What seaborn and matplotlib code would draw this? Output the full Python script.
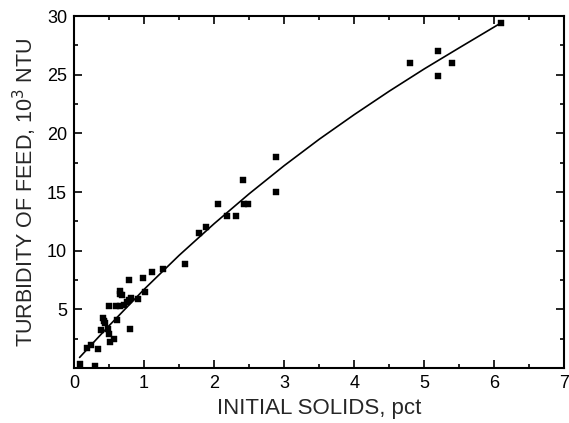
import matplotlib
matplotlib.use("Agg")
import matplotlib.pyplot as plt
from matplotlib.ticker import MultipleLocator
import seaborn as sns
import pandas as pd

# Data
solids_pct = [0.09, 0.30, 0.19, 0.25, 0.34, 0.38, 0.42, 0.43, 0.44, 0.48,
              0.50, 0.52, 0.57, 0.50, 0.60, 0.66, 0.62, 0.65, 0.66, 0.68,
              0.72, 0.75, 0.78, 0.80, 0.78, 0.82, 0.92, 0.98, 1.02, 1.12,
              1.27, 1.59, 1.79, 1.89, 2.06, 2.19, 2.31, 2.41, 2.42, 2.48,
              2.88, 2.89, 4.79, 5.19, 5.19, 5.39, 6.09]
turbidity = [0.3, 0.2, 1.7, 2.0, 1.6, 3.2, 4.3, 4.0, 3.8, 3.3,
             2.9, 2.2, 2.5, 5.3, 5.3, 5.3, 4.1, 6.6, 6.3, 6.2,
             5.4, 5.6, 7.5, 3.3, 5.8, 5.95, 5.9, 7.7, 6.5, 8.2,
             8.45, 8.9, 11.5, 12.0, 14.0, 13.0, 13.0, 16.0, 14.0, 14.0,
             15.0, 18.0, 26.0, 27.0, 24.9, 26.0, 29.4]

curve_x = [0.08, 0.5, 1.0, 1.5, 2.0, 2.5, 3.0, 3.5, 4.0, 4.5, 5.0, 5.5, 6.09]
curve_y = [0.9, 3.6, 6.7, 9.6, 12.3, 14.85, 17.25, 19.5, 21.6, 23.6, 25.5, 27.3, 29.4]

x_ticks = [0, 1, 2, 3, 4, 5, 6, 7]
y_ticks = [5, 10, 15, 20, 25, 30]

pts = pd.DataFrame({"x": solids_pct, "y": turbidity})
crv = pd.DataFrame({"x": curve_x, "y": curve_y})

sns.set_theme(style="ticks")
plt.rcParams["font.family"] = ["Liberation Sans", "DejaVu Sans"]

fig = plt.figure(figsize=(5.69, 4.23), dpi=100)
ax = fig.add_axes([0.130, 0.130, 0.862, 0.832])

sns.lineplot(data=crv, x="x", y="y", ax=ax, color="black", linewidth=1.2,
             estimator=None, sort=False)
sns.scatterplot(data=pts, x="x", y="y", ax=ax, marker="s", color="black",
                s=18, edgecolor="black", linewidth=0.3, zorder=3)

ax.set_xlim(0, 7)
ax.set_ylim(0, 30)
ax.set_xticks(x_ticks)
ax.set_yticks(y_ticks)
ax.xaxis.set_minor_locator(MultipleLocator(0.5))
ax.yaxis.set_minor_locator(MultipleLocator(2.5))
ax.tick_params(which="both", direction="in", top=True, right=True,
               labelsize=13, colors="black", width=1.2)
ax.tick_params(which="major", length=6, pad=5)
ax.tick_params(which="minor", length=3)
for sp in ax.spines.values():
    sp.set_visible(True)
    sp.set_linewidth(1.5)
    sp.set_color("black")

ax.set_xlabel("INITIAL SOLIDS, pct", fontsize=16, labelpad=4)
ax.set_ylabel("TURBIDITY OF FEED, 10$^3$ NTU", fontsize=15.5, labelpad=6)

fig.savefig("out.png", dpi=100)
